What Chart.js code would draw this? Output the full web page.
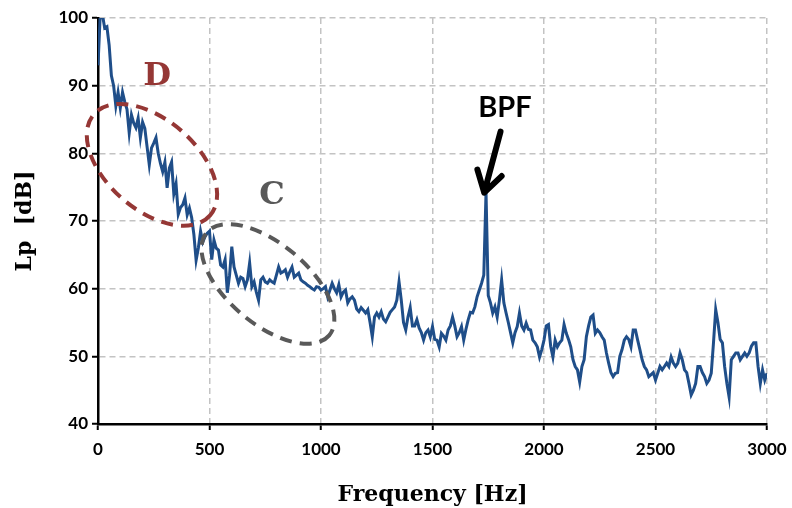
<!DOCTYPE html>
<html lang="en">
  <head>
    <meta charset="UTF-8" />
    <title>Spectrum Lp</title>
    <style>
      html, body { margin: 0; padding: 0; background: #fff; }
      #wrap { width: 792px; height: 508px; }
    </style>
  </head>

  <body>
    <script src="https://cdn.jsdelivr.net/npm/chart.js"></script>
    <div id="wrap"><canvas id="spectrum" width="792" height="508"></canvas></div>

    <script>
      // frequency bins [Hz]
      const freqHz = [
        0, 10, 20, 30, 40, 50, 60, 70, 80, 90, 100,
        110, 120, 130, 140, 150, 160, 170, 180, 190, 200,
        210, 220, 230, 240, 250, 260, 270, 280, 290, 300,
        310, 320, 330, 340, 350, 360, 370, 380, 390, 400,
        410, 420, 430, 440, 450, 460, 470, 480, 490, 500,
        510, 520, 530, 540, 550, 560, 570, 580, 590, 600,
        610, 620, 630, 640, 650, 660, 670, 680, 690, 700,
        710, 720, 730, 740, 750, 760, 770, 780, 790, 800,
        810, 820, 830, 840, 850, 860, 870, 880, 890, 900,
        910, 920, 930, 940, 950, 960, 970, 980, 990, 1000,
        1010, 1020, 1030, 1040, 1050, 1060, 1070, 1080, 1090, 1100,
        1110, 1120, 1130, 1140, 1150, 1160, 1170, 1180, 1190, 1200,
        1210, 1220, 1230, 1240, 1250, 1260, 1270, 1280, 1290, 1300,
        1310, 1320, 1330, 1340, 1350, 1360, 1370, 1380, 1390, 1400,
        1410, 1420, 1430, 1440, 1450, 1460, 1470, 1480, 1490, 1500,
        1510, 1520, 1530, 1540, 1550, 1560, 1570, 1580, 1590, 1600,
        1610, 1620, 1630, 1640, 1650, 1660, 1670, 1680, 1690, 1700,
        1710, 1720, 1730, 1740, 1750, 1760, 1770, 1780, 1790, 1800,
        1810, 1820, 1830, 1840, 1850, 1860, 1870, 1880, 1890, 1900,
        1910, 1920, 1930, 1940, 1950, 1960, 1970, 1980, 1990, 2000,
        2010, 2020, 2030, 2040, 2050, 2060, 2070, 2080, 2090, 2100,
        2110, 2120, 2130, 2140, 2150, 2160, 2170, 2180, 2190, 2200,
        2210, 2220, 2230, 2240, 2250, 2260, 2270, 2280, 2290, 2300,
        2310, 2320, 2330, 2340, 2350, 2360, 2370, 2380, 2390, 2400,
        2410, 2420, 2430, 2440, 2450, 2460, 2470, 2480, 2490, 2500,
        2510, 2520, 2530, 2540, 2550, 2560, 2570, 2580, 2590, 2600,
        2610, 2620, 2630, 2640, 2650, 2660, 2670, 2680, 2690, 2700,
        2710, 2720, 2730, 2740, 2750, 2760, 2770, 2780, 2790, 2800,
        2810, 2820, 2830, 2840, 2850, 2860, 2870, 2880, 2890, 2900,
        2910, 2920, 2930, 2940, 2950, 2960, 2970, 2980, 2990, 3000
      ]

      // sound pressure level [dB], one value per bin above
      const levelDb = [
        93, 100.5, 100.5, 98.5, 98.7, 96, 91.5, 90, 87, 89, 86.7,
        89, 87.6, 86.5, 83, 85.7, 84.5, 83.8, 85.2, 82.3, 84.6,
        83.7, 81, 78.3, 80.8, 81.5, 82.3, 80, 78.5, 77.3, 78.7,
        74.9, 77.8, 78.7, 74, 75.5, 71, 72, 72.4, 73.4, 70.9,
        71.9, 70.5, 68, 64.2, 66, 68.5, 66.9, 67.7, 68.2, 68.5,
        64.3, 67.2, 66, 65.7, 63.5, 63.2, 64.3, 59.4, 62, 66.2,
        63.2, 62, 60.8, 61.7, 61.5, 60.3, 61.3, 63.8, 60.3, 61,
        59.5, 58.3, 61.3, 61.7, 61, 60.8, 61.3, 61, 60.8, 62,
        63.2, 62.3, 62.5, 62.8, 61.7, 62.5, 63.2, 61.7, 62, 62.3,
        61.3, 61, 60.8, 60.5, 60.3, 60, 59.8, 60.3, 60.2, 59.8,
        60, 60.3, 58.8, 59.8, 60.8, 60, 59.4, 60.6, 58.8, 59.5,
        59.8, 57.9, 58.5, 58.8, 58.3, 57, 56.6, 57.2, 56.8, 56.4,
        56.9, 55, 52.9, 55.8, 56.4, 55.8, 56.6, 55.5, 55.1, 55.8,
        56.5, 56.9, 57.3, 58.3, 61, 58.3, 55, 53.9, 55.8, 57.2,
        54.5, 54.5, 55.4, 54.2, 53.5, 52.4, 53.5, 53.9, 52.9, 54.4,
        52.5, 52.4, 51.4, 53.4, 53, 52.4, 53.9, 54.5, 55.8, 54.5,
        52.9, 53.5, 54.4, 52.4, 54, 55.4, 56.5, 56.4, 57.3, 58.8,
        59.8, 60.8, 62, 74.2, 59, 57.9, 56.4, 57.3, 55.8, 58.3,
        61.3, 57.9, 56.4, 55, 53.5, 52, 53.5, 54.4, 56.4, 54.5,
        53.9, 54.9, 54, 53.9, 52.4, 52, 51.4, 49.9, 51, 52.4,
        54.5, 54.7, 51.5, 49.9, 52.4, 51.4, 52, 52.4, 54.7, 53.4,
        52.5, 51.4, 49.5, 48.5, 48, 46.2, 48.5, 49.5, 52.9, 54.5,
        55.8, 56.1, 53.4, 53.9, 53.5, 52.9, 52.4, 50.5, 49, 47.6,
        47, 47.5, 47.6, 50, 51, 52.4, 52.9, 52.5, 51.4, 53.9,
        53.9, 52.4, 51, 49.5, 48.5, 48, 47, 47.3, 47.6, 46.5,
        47.5, 48.5, 48, 48.5, 49, 48.5, 49.9, 49, 48.5, 49,
        50.5, 49.5, 48, 47.6, 46, 44.3, 45, 46, 48.5, 48.5,
        47.6, 47, 46, 46.5, 47.5, 52, 56.9, 55, 52.5, 52,
        48.5, 46, 44, 49.5, 50, 50.5, 50.5, 49.5, 50, 50.5,
        50, 50.5, 51.5, 52, 52, 48.5, 46, 48, 46.5, 47.5
      ]

      // annotation anchors in data units [Hz, dB]
      const zoneD = { label: 'D', at: [265, 91.3], centre: [242, 78.3] }
      const zoneC = { label: 'C', at: [780, 73.7], centre: [762, 60.7] }
      const bpf = { label: 'BPF', at: [1825, 86.7], from: [1805, 83.2], tip: [1732, 74.2] }

      const gridColor = '#c3c3c3'

      const annotations = {
        id: 'annotations',
        afterDatasetsDraw(chart) {
          const { ctx } = chart
          const xs = chart.scales.x
          const ys = chart.scales.y
          const px = (p) => [xs.getPixelForValue(p[0]), ys.getPixelForValue(p[1])]

          const ellipse = (centre, rx, ry, angle, color) => {
            const [cx, cy] = px(centre)
            ctx.save()
            ctx.strokeStyle = color
            ctx.lineWidth = 4
            ctx.setLineDash([12, 8])
            ctx.beginPath()
            ctx.ellipse(cx, cy, rx, ry, angle * Math.PI / 180, 0, Math.PI * 2)
            ctx.stroke()
            ctx.restore()
          }

          const text = (pos, str, font, color) => {
            const [x, y] = px(pos)
            ctx.save()
            ctx.font = font
            ctx.fillStyle = color
            ctx.textAlign = 'center'
            ctx.textBaseline = 'middle'
            ctx.fillText(str, x, y)
            ctx.restore()
          }

          ellipse(zoneD.centre, 77, 45, 41, '#953735')
          ellipse(zoneC.centre, 80, 40, 40, '#595959')
          text(zoneD.at, zoneD.label, 'bold 32px "DejaVu Serif"', '#953735')
          text(zoneC.at, zoneC.label, 'bold 32px "DejaVu Serif"', '#595959')
          text(bpf.at, bpf.label, 'bold 29px Lato', '#000')

          // arrow to the blade passing frequency peak
          const [x0, y0] = px(bpf.from)
          const [x1, y1] = px(bpf.tip)
          const ang = Math.atan2(y1 - y0, x1 - x0)
          ctx.save()
          ctx.strokeStyle = '#000'
          ctx.lineWidth = 6
          ctx.lineCap = 'round'
          ctx.lineJoin = 'round'
          ctx.beginPath()
          ctx.moveTo(x0, y0)
          ctx.lineTo(x1, y1)
          ctx.moveTo(x1 - 24 * Math.cos(ang - 0.55), y1 - 24 * Math.sin(ang - 0.55))
          ctx.lineTo(x1, y1)
          ctx.lineTo(x1 - 24 * Math.cos(ang + 0.55), y1 - 24 * Math.sin(ang + 0.55))
          ctx.stroke()
          ctx.restore()
        },
      }

      const plain = (v) => String(v)

      new Chart(document.getElementById('spectrum'), {
        type: 'line',
        data: {
          datasets: [
            {
              label: 'Lp',
              data: freqHz.map((f, i) => ({ x: f, y: levelDb[i] })),
              borderColor: '#1f4e89',
              borderWidth: 3,
              pointRadius: 0,
              tension: 0,
            },
          ],
        },
        options: {
          responsive: false,
          animation: false,
          events: [],
          layout: { padding: { top: 18, right: 25, left: 0, bottom: 0 } },
          plugins: { legend: { display: false }, tooltip: { enabled: false } },
          scales: {
            x: {
              type: 'linear',
              min: 0,
              max: 3000,
              afterFit: (s) => { s.height = 84; s.paddingRight = 0 },
              ticks: { stepSize: 500, callback: plain, color: '#000', padding: 9, font: { family: 'Lato', size: 17, weight: 'bold' } },
              grid: { color: gridColor, lineWidth: 1.5, tickColor: '#000', tickLength: 6, tickWidth: 2, tickBorderDash: [] },
              border: { color: '#000', width: 2.5, dash: [6, 4] },
              title: {
                display: true,
                text: 'Frequency [Hz]',
                color: '#000',
                font: { family: 'DejaVu Serif', size: 22, weight: 'bold' },
                padding: { top: 14, bottom: 0 },
              },
            },
            y: {
              min: 40,
              max: 100,
              afterFit: (s) => { s.width = 98 },
              ticks: { stepSize: 10, callback: plain, color: '#000', padding: 4, font: { family: 'Lato', size: 17, weight: 'bold' } },
              grid: { color: gridColor, lineWidth: 1.5, tickColor: '#000', tickLength: 6, tickWidth: 2, tickBorderDash: [] },
              border: { color: '#000', width: 2.5, dash: [6, 4] },
              title: {
                display: true,
                text: 'Lp  [dB]',
                color: '#000',
                font: { family: 'DejaVu Serif', size: 22, weight: 'bold' },
                padding: { top: 12, bottom: 4 },
              },
            },
          },
        },
        plugins: [annotations],
      })
    </script>
  </body>
</html>
